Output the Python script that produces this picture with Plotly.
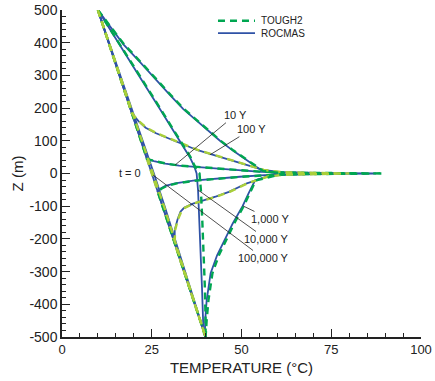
import plotly.graph_objects as go

# ---- temperature profiles T(z) at successive times ----
# depth coordinate (m) and temperature (deg C) for each profile
z_t0 = [500, -500]
T_t0_rocmas = [10, 40]
T_t0_tough2 = [10, 40]

z_10y = [500, 45, 38, 30, 24, 16, 10, 5, 2, 0, -2, -5, -10, -16, -22, -30, -38, -46, -55, -500]
T_10y_rocmas = [10, 23.65, 25.6, 28.8, 32.6, 41.5, 48.5, 55.5, 67, 87.5, 67, 56.5, 49.5, 41.5, 36.5, 31.5, 28.8, 27.5, 26.65, 40]
T_10y_tough2 = [10, 23.65, 25.8, 29.2, 33.0, 42.0, 49.0, 56.0, 68, 89.5, 68, 57, 50, 42, 37, 32, 29.2, 27.8, 26.65, 40]

z_100y = [500, 184, 160, 140, 123, 97, 72, 60, 32, 11, 4, 0, -4, -10, -30, -56, -70, -81, -92, -105, -117, -140, -173, -213, -500]
T_100y_rocmas = [10, 19.48, 21.3, 23.3, 26.2, 31.9, 37.6, 41.2, 49.6, 56, 61, 78, 61, 57, 51.5, 46.5, 43, 40, 36.5, 34, 33, 32.2, 31.4, 31.39, 40]
T_100y_tough2 = [10, 19.48, 21.4, 23.5, 26.4, 32.1, 37.8, 41.4, 49.8, 56.2, 61.5, 80, 61.5, 57.2, 51.7, 46.7, 43.2, 40.2, 36.7, 34.2, 33.2, 32.3, 31.5, 31.39, 40]

z_1000y = [500, 450, 395, 340, 283, 240, 197, 150, 100, 70, 49, 25, 8, 0, -21, -60, -100, -152, -204, -250, -305, -387, -448, -489, -500]
T_1000y_rocmas = [10, 13.4, 17.1, 21.8, 26.4, 30.1, 33.8, 38.6, 44.0, 47.6, 50.4, 53.5, 55.8, 60, 53.8, 52.0, 50.3, 47.6, 45.2, 43.2, 41.4, 40.3, 39.9, 39.8, 40]
T_1000y_tough2 = [10, 13.5, 17.3, 22.0, 26.6, 30.3, 34.0, 38.8, 44.2, 47.8, 50.6, 53.7, 56.0, 62, 54.0, 52.3, 50.6, 48.0, 45.6, 43.7, 41.9, 40.8, 40.3, 40.0, 40]

z_1e4y = [500, 400, 300, 200, 100, 50, 20, 5, 0, -52, -150, -250, -350, -450, -490, -500]
T_1e4y_rocmas = [10, 15.8, 21.4, 27.1, 32.9, 35.6, 36.9, 37.4, 37.5, 37.9, 38.3, 38.7, 39.0, 39.3, 39.5, 40]
T_1e4y_tough2 = [10, 15.9, 21.6, 27.3, 33.1, 35.8, 37.1, 37.7, 38.3, 38.7, 39.1, 39.5, 39.8, 40.0, 40.0, 40]

z_1e5y = [500, 250, 100, 0, -100, -250, -500]
T_1e5y_rocmas = [10, 17.9, 22.6, 25.6, 28.6, 32.9, 40]
T_1e5y_tough2 = [10, 17.7, 22.4, 25.4, 28.4, 32.7, 40]

# TOUGH2 dash colour per profile
profiles = [
    ("t = 0", z_t0, T_t0_rocmas, T_t0_tough2, "#a9cf3a"),
    ("10 Y", z_10y, T_10y_rocmas, T_10y_tough2, "#00a651"),
    ("100 Y", z_100y, T_100y_rocmas, T_100y_tough2, "#a9cf3a"),
    ("1,000 Y", z_1000y, T_1000y_rocmas, T_1000y_tough2, "#00a651"),
    ("10,000 Y", z_1e4y, T_1e4y_rocmas, T_1e4y_tough2, "#00a651"),
    ("100,000 Y", z_1e5y, T_1e5y_rocmas, T_1e5y_tough2, "#a9cf3a"),
]

x_ticks = [0, 25, 50, 75, 100]
y_ticks = [500, 400, 300, 200, 100, 0, -100, -200, -300, -400, -500]
y_ticktext = ["500", "400", "300", "200", "100", "0", "-100", "-200", "-300", "-400", "-500"]

BLUE = "#2f52a6"
FONT = "Liberation Sans, Arial, sans-serif"

fig = go.Figure()

# ROCMAS solid lines underneath
for name, z, tr, tt, col in profiles:
    fig.add_trace(go.Scatter(x=tr, y=z, mode="lines", name="ROCMAS " + name,
                             line=dict(color=BLUE, width=1.8), showlegend=False,
                             hoverinfo="skip"))
# TOUGH2 dashed lines on top
for name, z, tr, tt, col in profiles:
    fig.add_trace(go.Scatter(x=tt, y=z, mode="lines", name="TOUGH2 " + name,
                             line=dict(color=col, width=2.4, dash="7px,5px"),
                             showlegend=False, hoverinfo="skip"))

# key in the upper right: two line samples and one two-line caption
fig.add_shape(type="line", xref="paper", yref="paper", x0=0.4345, x1=0.5376,
              y0=0.967, y1=0.967, line=dict(color="#00a651", width=2.4, dash="7px,5px"))
fig.add_shape(type="line", xref="paper", yref="paper", x0=0.4345, x1=0.5376,
              y0=0.929, y1=0.929, line=dict(color=BLUE, width=1.8))
fig.add_annotation(xref="paper", yref="paper", x=0.5515, y=0.948,
                   text="TOUGH2<br>ROCMAS", showarrow=False, align="left",
                   xanchor="left", yanchor="middle", borderpad=0,
                   font=dict(family=FONT, size=10, color="#222"))

# time labels with leader lines (text centre -> point on curve)
labels = [
    ("10 Y", 31.5, 26, 48.19, 178.3),
    ("100 Y", 41.2, 57, 52.79, 135.5),
    ("1,000 Y", 50.4, -99, 57.94, -139),
    ("10,000 Y", 37.9, -50.5, 56.96, -200.3),
    ("100,000 Y", 25.4, -5, 55.99, -258.4),
]
for txt, x, y, ax, ay in labels:
    fig.add_annotation(x=x, y=y, ax=ax, ay=ay, axref="x", ayref="y", text=txt,
                       showarrow=True, arrowhead=0, arrowwidth=0.8, arrowcolor="#222",
                       standoff=0, startstandoff=0,
                       font=dict(family=FONT, size=11, color="#222"))
fig.add_annotation(x=18.94, y=1.5, text="t = 0", showarrow=False,
                   font=dict(family=FONT, size=11, color="#222"))

fig.update_xaxes(range=[0, 100], tickvals=x_ticks, ticks="inside", ticklen=8,
                 tickwidth=1, tickcolor="#222", automargin=False,
                 minor=dict(dtick=5, ticks="inside", ticklen=4, tickcolor="#222", tickwidth=1),
                 showline=True, linecolor="#222", linewidth=1.5, showgrid=False,
                 zeroline=False, tickfont=dict(family=FONT, size=13, color="#222"),
                 title=dict(text="TEMPERATURE (°C)", standoff=6,
                            font=dict(family=FONT, size=15, color="#222")))
fig.update_yaxes(range=[-500, 500], tickvals=y_ticks, ticktext=y_ticktext,
                 ticks="inside", ticklen=8, tickwidth=1, tickcolor="#222", automargin=False,
                 minor=dict(dtick=20, ticks="inside", ticklen=4, tickcolor="#222", tickwidth=1),
                 showline=True, linecolor="#222", linewidth=1.5, showgrid=False,
                 zeroline=False, tickfont=dict(family=FONT, size=14, color="#222"),
                 title=dict(text="Z (m)", standoff=2,
                            font=dict(family=FONT, size=15, color="#222")))

fig.update_layout(width=435, height=381, margin=dict(l=62, r=14, t=10, b=44),
                  plot_bgcolor="white", paper_bgcolor="white")

fig.write_html("out.html")
